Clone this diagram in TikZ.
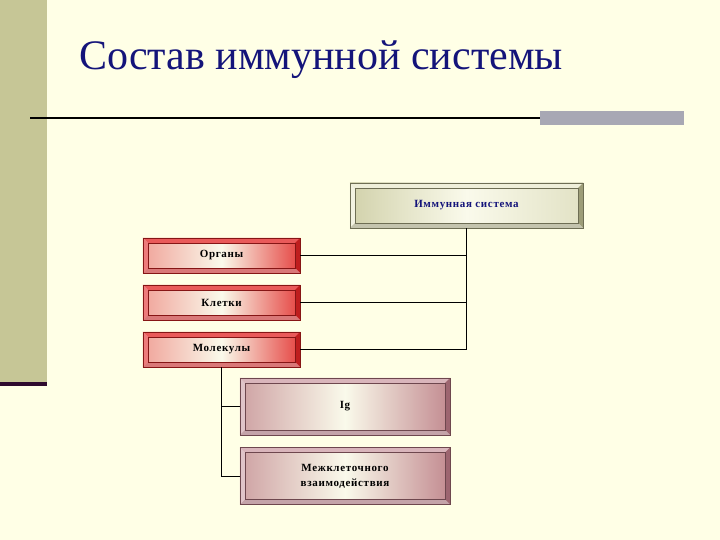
\documentclass[tikz,border=0pt]{standalone}
\usepackage{fontspec}
\setmainfont{Liberation Serif}
\newfontfamily\boxfont[LetterSpace=6]{Liberation Serif}
\usetikzlibrary{positioning}

\definecolor{paper}{RGB}{255,255,230}
\definecolor{band}{RGB}{198,198,150}
\definecolor{strip}{RGB}{46,10,46}
\definecolor{greybar}{RGB}{168,168,180}
\definecolor{navy}{RGB}{20,20,122}
\definecolor{khaki}{RGB}{196,196,150}
\definecolor{cream}{RGB}{250,250,235}
\definecolor{boxred}{RGB}{225,35,35}
\definecolor{rose}{RGB}{170,90,105}

\tikzset{
  box/.style={minimum width=#1, align=center, inner sep=0pt,
    font=\boxfont\fontsize{11}{15}\selectfont\bfseries},
  sysbox/.style={box=233pt, minimum height=45pt, text=navy,
    left color=khaki!75!cream, right color=khaki!45!cream, middle color=cream},
  redbox/.style={box=157pt, minimum height=35pt,
    left color=boxred!40!cream, right color=boxred!85!cream, middle color=cream},
  rosebox/.style={box=210pt, minimum height=57pt,
    left color=rose!55!cream, right color=rose!70!cream, middle color=cream},
  link/.style={line width=0.8pt},
}

% bevelled frame round a node: {node}{dark side}{light side}
\newcommand{\bevel}[3]{%
  \fill[#3] (#1.north west) -- (#1.north east) -- ([shift={(-5,5)}]#1.north east)
    -- ([shift={(5,5)}]#1.north west) -- cycle;
  \fill[#3!80!white] (#1.north west) -- ([shift={(5,5)}]#1.north west)
    -- ([shift={(5,-5)}]#1.south west) -- (#1.south west) -- cycle;
  \fill[#2] (#1.north east) -- (#1.south east) -- ([shift={(-5,-5)}]#1.south east)
    -- ([shift={(-5,5)}]#1.north east) -- cycle;
  \fill[#2!60!white] (#1.south west) -- (#1.south east) -- ([shift={(-5,-5)}]#1.south east)
    -- ([shift={(5,-5)}]#1.south west) -- cycle;
  \draw[#2!70!black, line width=0.5pt] ([shift={(5,5)}]#1.north west) rectangle ([shift={(-5,-5)}]#1.south east);
  \draw[#2!70!black, line width=0.5pt] (#1.north west) rectangle (#1.south east);
}

\begin{document}
\begin{tikzpicture}[x=1pt,y=-1pt]
\useasboundingbox (0,0) rectangle (720,540);
\fill[paper] (0,0) rectangle (720,540);
\fill[band] (0,0) rectangle (47,382);
\fill[strip] (0,382) rectangle (47,386);

% title and rule
\node[anchor=base west, text=navy, inner sep=0pt, font=\fontsize{42}{46}\selectfont] (title) at (79,70) {Состав иммунной системы};
\draw[line width=2pt] (30,118) -- (540,118);
\fill[greybar] (540,111) rectangle (684,125);

% boxes
\node[sysbox] (sys) at (466.5,205.5) {Иммунная система};
\node[redbox] (org) at (221.5,255.5) {Органы};
\node[redbox] (cell) at (221.5,302.5) {Клетки};
\node[redbox] (mol) at (221.5,349.5) {Молекулы};
\node[rosebox] (ig) at (345,406.5) {Ig};
\node[rosebox] (inter) at (345,476) {Межклеточного\\взаимодействия};

\bevel{sys}{khaki!80!black}{cream!80!khaki}
\foreach \n in {org,cell,mol}
  \bevel{\n}{boxred!85!black}{boxred!75!white};
\foreach \n in {ig,inter}
  \bevel{\n}{rose!70!gray}{rose!45!white};

% connectors
\foreach \n in {org,cell,mol}
  \draw[link] (sys.south) |- (\n.east);
\foreach \n in {ig,inter}
  \draw[link] (mol.south) |- (\n.west);
\end{tikzpicture}
\end{document}
